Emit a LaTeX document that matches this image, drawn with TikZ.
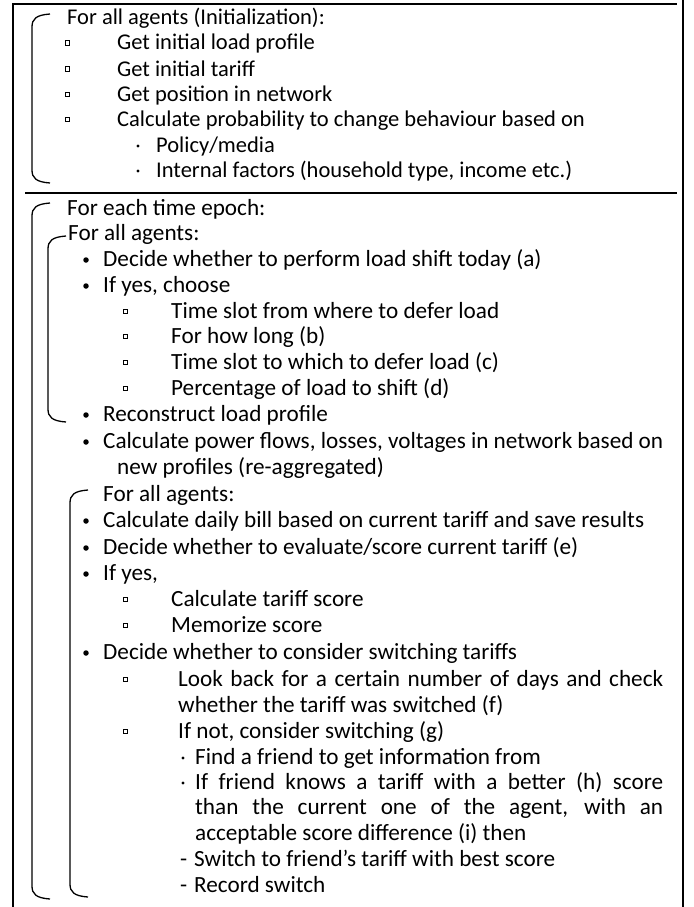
\documentclass[tikz,border=0pt]{standalone}
\usepackage{fontspec}
\setmainfont{Carlito}
\usepackage{tikz}
\usetikzlibrary{shapes,arrows,positioning,calc}

\tikzset{
  txt/.style={anchor=base west, inner sep=0pt, font=\fontsize{22.5}{26}\selectfont},
  txtb/.style={anchor=base west, inner sep=0pt, font=\fontsize{23.2}{27}\selectfont},
  sqbul/.style={draw, line width=0.5pt, minimum size=4.5pt, inner sep=0pt},
  dotbul/.style={circle, fill, minimum size=3.2pt, inner sep=0pt},
  bigbul/.style={circle, fill, minimum size=5.5pt, inner sep=0pt},
  frameline/.style={line width=2pt},
  brk/.style={line width=1.3pt}
}
% left bracket: x, top, bottom
\newcommand{\brkt}[3]{%
  \draw[brk] (#1+18,#2) .. controls (#1+4,#2+1) and (#1,#2+5) .. (#1,#2+13)
    -- (#1,#3-13) .. controls (#1,#3-5) and (#1+4,#3-1) .. (#1+18,#3);}

\begin{document}
\begin{tikzpicture}[x=1pt,y=-1pt]
  \useasboundingbox (0,0) rectangle (693,907);
  % table frame
  \draw[frameline] (13,4) -- (13,907);
  \draw[frameline] (12,4) -- (677,4);
  \draw[frameline] (683,0) -- (683,907);
  \draw[frameline] (25,193) -- (677,193);

  % initialization
  \brkt{32}{14}{183}
  \node[txt] (init) at (67,25) {For all agents (Initialization):};
  \foreach \y in {50,76,101,126}
    \node[sqbul] (sqa\y) at (67,\y-7) {};
  \node[txt] (profile) at (117,50) {Get initial load profile};
  \node[txt] (tariff) at (117,76) {Get initial tariff};
  \node[txt] (position) at (117,101) {Get position in network};
  \node[txt] (prob) at (117,126) {Calculate probability to change behaviour based on};
  \foreach \y in {152,177}
    \node[dotbul] (dta\y) at (138,\y-6) {};
  \node[txt] (policy) at (156,152) {Policy/media};
  \node[txt] (internal) at (156,177) {Internal factors (household type, income etc.)};

  % time loop
  \brkt{32}{203}{899}
  \brkt{48}{236}{422}
  \brkt{70}{490}{897}
  \node[txtb] (epoch) at (67,215) {For each time epoch:};
  \node[txtb] (agentsa) at (68,240) {For all agents:};
  \foreach \y in {266,292,421,448,527,554,580,659}
    \node[bigbul] (bb\y) at (86,\y-6) {};
  \foreach \y in {318,343,369,395,606,632,686,738}
    \node[sqbul] (sqb\y) at (125,\y-7) {};
  \node[txtb] (shift) at (103,266) {Decide whether to perform load shift today (a)};
  \node[txtb] (choose) at (103,292) {If yes, choose};
  \node[txtb] (slotfrom) at (171,318) {Time slot from where to defer load};
  \node[txtb] (howlong) at (171,343) {For how long (b)};
  \node[txtb] (slotto) at (171,369) {Time slot to which to defer load (c)};
  \node[txtb] (percent) at (171,395) {Percentage of load to shift (d)};
  \node[txtb] (rebuild) at (103,421) {Reconstruct load profile};
  \node[txtb] (flows) at (103,448) {\makebox[560pt][s]{Calculate power flows, losses, voltages in network based on}};
  \node[txtb] (flows2) at (117,474) {new profiles (re-aggregated)};
  \node[txtb] (agentsb) at (103,501) {For all agents:};
  \node[txtb] (bill) at (103,527) {Calculate daily bill based on current tariff and save results};
  \node[txtb] (evaluate) at (103,554) {Decide whether to evaluate/score current tariff (e)};
  \node[txtb] (ifyes) at (103,580) {If yes,};
  \node[txtb] (score) at (171,606) {Calculate tariff score};
  \node[txtb] (memo) at (171,632) {Memorize score};
  \node[txtb] (consider) at (103,659) {Decide whether to consider switching tariffs};
  \node[txtb] (lookback) at (178,686) {\makebox[485pt][s]{Look back for a certain number of days and check}};
  \node[txtb] (lookback2) at (178,712) {whether the tariff was switched (f)};
  \node[txtb] (ifnot) at (178,738) {If not, consider switching (g)};
  \foreach \y in {764,789}
    \node[dotbul] (dtb\y) at (183,\y-6) {};
  \node[txtb] (friend) at (195,764) {Find a friend to get information from};
  \node[txtb] (knows) at (195,789) {\makebox[468pt][s]{If friend knows a tariff with a better (h) score}};
  \node[txtb] (knows2) at (195,814) {\makebox[468pt][s]{than the current one of the agent, with an}};
  \node[txtb] (knows3) at (195,840) {acceptable score difference (i) then};
  \node[txtb] (dasha) at (180,866) {-};
  \node[txtb] (switch) at (194,866) {Switch to friend’s tariff with best score};
  \node[txtb] (dashb) at (180,892) {-};
  \node[txtb] (record) at (194,892) {Record switch};
\end{tikzpicture}
\end{document}
